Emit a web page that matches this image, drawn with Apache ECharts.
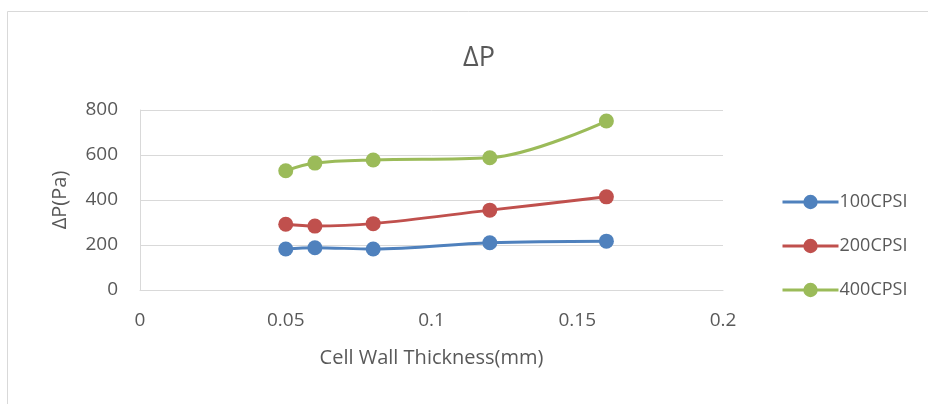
<!DOCTYPE html>
<html>
<head>
<meta charset="utf-8">
<script src="https://cdn.jsdelivr.net/npm/echarts@6/dist/echarts.min.js"></script>
<style>
  html, body { margin: 0; padding: 0; background: #fff; }
  #chart { width: 928px; height: 404px; }
</style>
</head>
<body>
<div id="chart"></div>
<script>
// Cell wall thickness (mm) for each measured sample
const thickness = [0.05, 0.06, 0.08, 0.12, 0.16];
// Pressure drop (Pa) per cell density
const cpsi100 = [182, 188, 182, 210, 217];
const cpsi200 = [292, 284, 295, 355, 414];
const cpsi400 = [530, 564, 578, 588, 751];
const seriesNames = ['100CPSI', '200CPSI', '400CPSI'];
const seriesColors = ['#4f81bd', '#c0504d', '#9bbb59'];
const seriesValues = [cpsi100, cpsi200, cpsi400];

const FONT = '"Open Sans", "Liberation Sans", sans-serif';
const TEXT = '#595959';
const GRID = '#d9d9d9';

const chart = echarts.init(document.getElementById('chart'), null, { renderer: 'canvas' });

chart.setOption({
  animation: false,
  backgroundColor: '#fff',
  textStyle: { fontFamily: FONT, color: TEXT },
  title: {
    text: 'ΔP',
    left: 458,
    top: 40,
    textStyle: { fontFamily: FONT, fontSize: 27, fontWeight: 'normal', color: TEXT }
  },
  graphic: [{
    type: 'rect',
    shape: { x: 7.5, y: 11.5, width: 1000, height: 1000 },
    style: { fill: 'none', stroke: GRID, lineWidth: 1 },
    silent: true,
    z: -1
  }],
  legend: {
    orient: 'vertical',
    left: 776,
    top: 188,
    itemGap: 26,
    itemWidth: 56,
    itemHeight: 18,
    data: seriesNames,
    lineStyle: { width: 3 },
    textStyle: { fontFamily: FONT, fontSize: 18, color: TEXT, padding: [0, 0, 0, -4] }
  },
  grid: { left: 140, right: 205, top: 110, bottom: 114, containLabel: false },
  xAxis: {
    type: 'value',
    min: 0, max: 0.2, interval: 0.05,
    name: 'Cell Wall Thickness(mm)',
    nameLocation: 'middle',
    nameGap: 58,
    nameTextStyle: { fontFamily: FONT, fontSize: 20, color: TEXT },
    axisLine: { show: true, lineStyle: { color: GRID, width: 1 } },
    axisTick: { show: false },
    splitLine: { show: false },
    axisLabel: { fontFamily: FONT, fontSize: 19, color: TEXT, margin: 21 }
  },
  yAxis: {
    type: 'value',
    min: 0, max: 800, interval: 200,
    name: 'ΔP(Pa)',
    nameLocation: 'middle',
    nameGap: 70,
    nameRotate: 90,
    nameTextStyle: { fontFamily: FONT, fontSize: 20, color: TEXT },
    axisLine: { show: true, lineStyle: { color: GRID, width: 1 } },
    axisTick: { show: false },
    splitLine: { show: true, lineStyle: { color: GRID, width: 1 } },
    axisLabel: { fontFamily: FONT, fontSize: 19, color: TEXT, margin: 22 }
  },
  series: seriesNames.map((name, i) => ({
    name: name,
    type: 'line',
    smooth: 0.35,
    data: thickness.map((x, j) => [x, seriesValues[i][j]]),
    symbol: 'circle',
    symbolSize: 15,
    itemStyle: { color: seriesColors[i] },
    lineStyle: { color: seriesColors[i], width: 3 }
  }))
});
</script>
</body>
</html>
